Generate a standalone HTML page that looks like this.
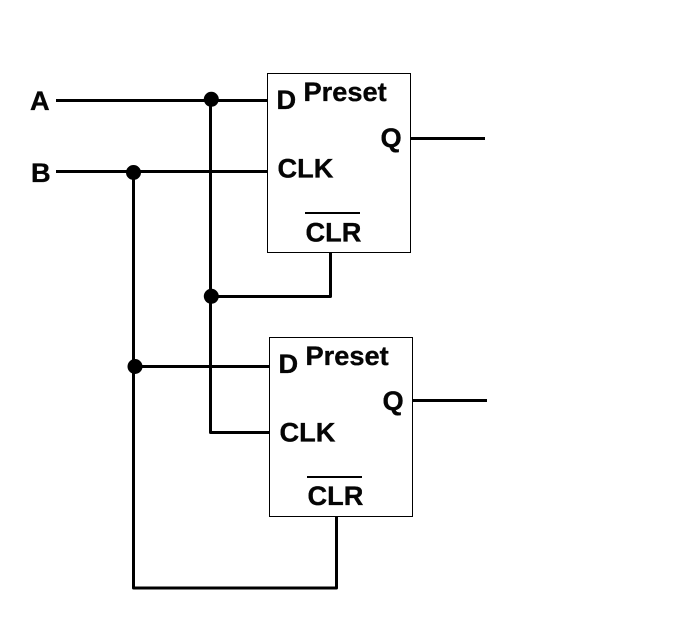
<!DOCTYPE html>
<html>
<head>
<meta charset="utf-8">
<style>
html,body{margin:0;padding:0;background:#fff}
svg{display:block}
text{font-family:"Liberation Sans",Arial,sans-serif;font-weight:bold;font-size:27.2px;fill:#050505;stroke:#050505;stroke-width:.35px}
</style>
</head>
<body>
<svg width="688" height="619" viewBox="0 0 688 619" xmlns="http://www.w3.org/2000/svg">
<rect width="688" height="619" fill="#fff"/>
<g fill="#fff" stroke="#000" stroke-width="1">
<rect x="267.5" y="73.5" width="143" height="179"/>
<rect x="269.5" y="337.5" width="143" height="179"/>
</g>
<g fill="none" stroke="#000" stroke-width="3" stroke-linejoin="round">
<path d="M56 100.5H267"/>
<path d="M56 171.5H267"/>
<path d="M210.5 100V432.5H269"/>
<path d="M133.5 172V588H336.5V517"/>
<path d="M134 366.5H269"/>
<path d="M330.5 253V296.5H211"/>
<path d="M411 138.5H485"/>
<path d="M413 400.5H487"/>
</g>
<g fill="#000">
<circle cx="211.3" cy="99.3" r="7.5"/>
<circle cx="133.5" cy="172.5" r="7.5"/>
<circle cx="211.3" cy="296.3" r="7.5"/>
<circle cx="135" cy="366.5" r="7.5"/>
</g>
<text x="30" y="110">A</text>
<text x="31" y="182">B</text>
<text x="303.5" y="101">Preset</text>
<text x="276.5" y="109">D</text>
<text x="277.5" y="177.5">CLK</text>
<text x="380.5" y="147">Q</text>
<text x="305.5" y="241.5">CLR</text>
<rect x="305" y="212" width="55" height="2" fill="#000"/>
<text x="305.5" y="365">Preset</text>
<text x="278.5" y="373">D</text>
<text x="279.5" y="441.5">CLK</text>
<text x="382.5" y="410">Q</text>
<text x="307.5" y="505">CLR</text>
<rect x="307" y="476" width="55" height="2" fill="#000"/>
</svg>
</body>
</html>
